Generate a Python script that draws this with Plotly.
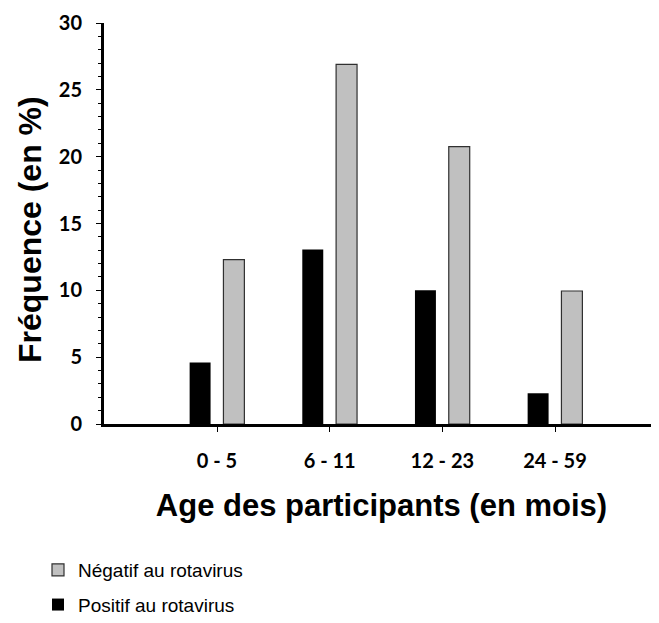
import plotly.graph_objects as go

categories = ["0 - 5", "6 - 11", "12 - 23", "24 - 59"]
positif = [4.6, 13.05, 10.0, 2.3]
negatif = [12.3, 26.9, 20.75, 9.95]
y_ticks = [0, 5, 10, 15, 20, 25, 30]

fig = go.Figure()
fig.add_trace(go.Bar(
    x=categories, y=positif, name="Positif au rotavirus",
    marker=dict(color="#000000", line=dict(color="#000000", width=0)),
    legendgroup="pos", legendrank=2,
))
fig.add_trace(go.Bar(
    x=categories, y=negatif, name="Négatif au rotavirus",
    marker=dict(color="#C0C0C0", line=dict(color="#303030", width=1.2)),
    legendgroup="neg", legendrank=1,
))

# page body has an 8px margin, so the figure is sized to the visible area
W, H = 651, 615
L, T, B = 96, 15, 199
plot_w, plot_h = W - L, H - T - B
fig.update_layout(
    width=W, height=H,
    margin=dict(l=L, r=0, t=T, b=B, pad=0, autoexpand=False),
    plot_bgcolor="white", paper_bgcolor="white",
    barmode="group", bargap=0.4, bargroupgap=0.38,
    showlegend=True,
    legend=dict(
        xref="container", yref="container",
        x=30 / W, xanchor="left", y=1 - 543 / H, yanchor="top",
        traceorder="grouped", tracegroupgap=7,
        font=dict(family="Liberation Sans", size=19, color="#000000"),
        bgcolor="rgba(0,0,0,0)",
    ),
    xaxis=dict(
        type="category", range=[-1.003, 3.923],
        showline=True, linecolor="#000000", linewidth=3,
        ticks="outside", ticklen=5, tickwidth=1, tickcolor="#000000",
        tickfont=dict(family="Lato", size=20, color="#000000", weight="bold"),
        ticklabelstandoff=12,
        showgrid=False, zeroline=False,
        title=dict(text="<b>Age des participants (en mois)</b>",
                   font=dict(family="Liberation Sans", size=31, color="#000000"),
                   standoff=24),
    ),
    yaxis=dict(
        range=[0, 30], tickvals=y_ticks,
        showline=True, linecolor="#000000", linewidth=3,
        ticks="outside", ticklen=5, tickwidth=1, tickcolor="#000000",
        minor=dict(dtick=1, ticks="outside", ticklen=3, tickwidth=1, tickcolor="#000000"),
        tickfont=dict(family="Lato", size=20, color="#000000", weight="bold"),
        ticklabelstandoff=10,
        showgrid=False, zeroline=False,
    ),
    annotations=[dict(
        text="<b>Fréquence (en %)</b>", textangle=-90,
        xref="paper", yref="paper",
        x=(22 - L) / plot_w, y=(T + plot_h - 222) / plot_h,
        xanchor="center", yanchor="middle", showarrow=False,
        font=dict(family="Liberation Sans", size=32, color="#000000"),
    )],
)

fig.write_html("out.html")
